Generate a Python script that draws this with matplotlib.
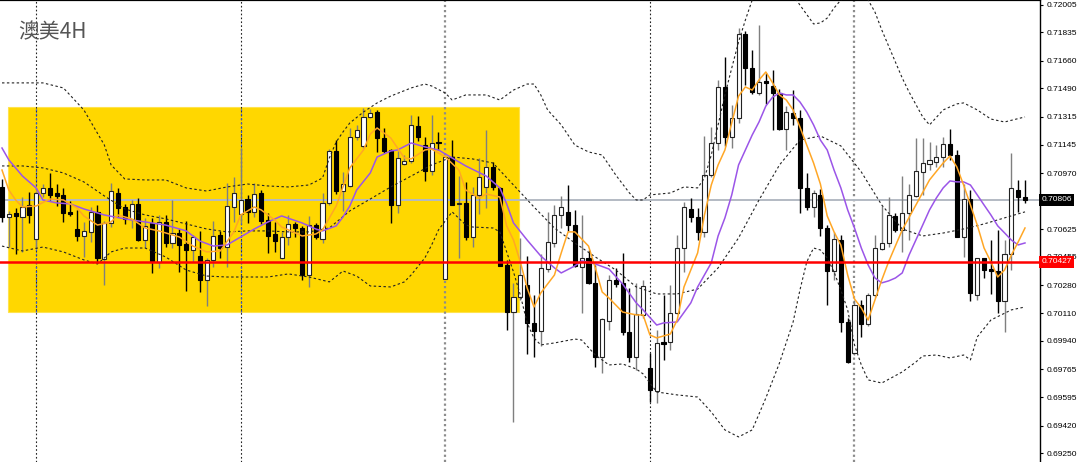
import matplotlib
matplotlib.use("Agg")
import matplotlib.pyplot as plt
from matplotlib.patches import Rectangle
import numpy as np

# ---------------- data (AUDUSD 4H) ----------------
opens = [0.70885,0.70701,0.70726,0.70701,0.70774,0.70565,0.70848,0.70879,0.70848,0.70836,
         0.70732,0.70627,0.70584,0.70609,0.70732,0.70443,0.70664,0.70848,0.70762,0.70689,
         0.70781,0.70559,0.70664,0.70425,0.70670,0.70541,0.70603,0.70535,0.70498,0.70461,
         0.70314,0.70437,0.70590,0.70516,0.70762,0.70719,0.70811,0.70732,0.70848,0.70682,
         0.70596,0.70449,0.70578,0.70658,0.70633,0.70345,0.70652,0.70566,0.70787,0.71106,
         0.70860,0.70891,0.71192,0.71137,0.71315,0.71345,0.71186,0.71112,0.70774,0.71026,
         0.71045,0.71260,0.71143,0.70983,0.71161,0.70320,0.71069,0.70781,0.70787,0.70578,
         0.70836,0.70885,0.71008,0.70879,0.70406,0.70117,0.70209,0.70283,0.70050,0.70001,
         0.70381,0.70541,0.70713,0.70732,0.70652,0.70394,0.70449,0.70295,0.69841,0.70062,
         0.70314,0.70295,0.69995,0.69841,0.70099,0.69774,0.69632,0.69933,0.69933,0.70111,
         0.70510,0.70750,0.70701,0.70609,0.70958,0.71155,0.71499,0.71192,0.71309,0.71824,
         0.71615,0.71462,0.71536,0.71505,0.71462,0.71241,0.71339,0.71309,0.70879,0.70762,
         0.70836,0.70633,0.70369,0.70559,0.70056,0.69866,0.70160,0.70044,0.70222,0.70504,
         0.70541,0.70707,0.70621,0.70726,0.70830,0.70977,0.71026,0.71038,0.71069,0.71149,
         0.71081,0.70578,0.70811,0.70222,0.70449,0.70381,0.70369,0.70185,0.70473,0.70866,
         0.70823]
highs = [0.70934,0.70738,0.70756,0.70823,0.70854,0.70860,0.70903,0.70971,0.70903,0.70879,
         0.70799,0.70744,0.70670,0.70762,0.70774,0.70676,0.70909,0.70879,0.70781,0.70805,
         0.70817,0.70695,0.70695,0.70713,0.70713,0.70805,0.70627,0.70676,0.70590,0.70615,
         0.70449,0.70676,0.70615,0.70909,0.70946,0.71124,0.70836,0.70909,0.70866,0.70726,
         0.70670,0.70609,0.70713,0.70670,0.70646,0.70707,0.70664,0.70848,0.71118,0.71173,
         0.70977,0.71247,0.71266,0.71370,0.71364,0.71358,0.71247,0.71118,0.71106,0.71081,
         0.71327,0.71321,0.71192,0.71327,0.71223,0.71075,0.71173,0.70952,0.70916,0.70885,
         0.71063,0.71235,0.71038,0.70885,0.70437,0.70295,0.70572,0.70461,0.70222,0.70473,
         0.70732,0.70774,0.70829,0.70897,0.70744,0.70713,0.70498,0.70406,0.70080,0.70345,
         0.70388,0.70480,0.70265,0.70295,0.70314,0.69866,0.70007,0.70222,0.70283,0.70590,
         0.70793,0.70817,0.70756,0.71198,0.71253,0.71542,0.71683,0.71388,0.71861,0.71843,
         0.71726,0.71880,0.71585,0.71603,0.71487,0.71382,0.71480,0.71358,0.70971,0.70866,
         0.70873,0.70652,0.70609,0.70590,0.70080,0.70191,0.70191,0.70234,0.70590,0.70768,
         0.70823,0.70726,0.70952,0.70903,0.71186,0.71186,0.71161,0.71143,0.71192,0.71241,
         0.71112,0.70903,0.70866,0.70449,0.70449,0.70559,0.70621,0.70559,0.71094,0.70928,
         0.70928]
lows = [0.70670,0.70516,0.70473,0.70486,0.70664,0.70510,0.70823,0.70805,0.70768,0.70670,
        0.70707,0.70553,0.70455,0.70547,0.70425,0.70283,0.70639,0.70707,0.70658,0.70633,
        0.70553,0.70510,0.70357,0.70388,0.70516,0.70510,0.70363,0.70246,0.70425,0.70240,
        0.70154,0.70394,0.70449,0.70394,0.70670,0.70664,0.70664,0.70701,0.70658,0.70480,
        0.70486,0.70443,0.70529,0.70578,0.70314,0.70271,0.70566,0.70541,0.70774,0.70842,
        0.70738,0.70885,0.71173,0.71124,0.71309,0.71100,0.71094,0.70664,0.70726,0.71020,
        0.71032,0.71167,0.70922,0.70958,0.71112,0.70320,0.70774,0.70449,0.70559,0.70516,
        0.70719,0.70756,0.70866,0.70400,0.70007,0.69442,0.70191,0.69860,0.69841,0.69908,
        0.70363,0.70516,0.70633,0.70615,0.70394,0.70111,0.70289,0.69780,0.69743,0.70007,
        0.70271,0.69976,0.69810,0.69761,0.70080,0.69565,0.69559,0.69823,0.69884,0.70105,
        0.70363,0.70670,0.70559,0.70578,0.70946,0.71112,0.71137,0.71124,0.71278,0.71511,
        0.71456,0.71450,0.71394,0.71235,0.71235,0.71112,0.71266,0.70726,0.70744,0.70701,
        0.70584,0.70160,0.70314,0.69995,0.69804,0.69853,0.69964,0.70031,0.70209,0.70498,
        0.70516,0.70609,0.70486,0.70559,0.70823,0.70836,0.70989,0.71008,0.71008,0.71051,
        0.70578,0.70455,0.70185,0.70191,0.70326,0.70228,0.70111,0.69995,0.70375,0.70732,
        0.70787]
closes = [0.70701,0.70719,0.70707,0.70762,0.70713,0.70848,0.70879,0.70836,0.70829,0.70726,
          0.70719,0.70584,0.70615,0.70732,0.70449,0.70664,0.70860,0.70756,0.70689,0.70781,
          0.70559,0.70646,0.70431,0.70670,0.70541,0.70603,0.70529,0.70498,0.70578,0.70314,
          0.70437,0.70584,0.70510,0.70768,0.70848,0.70805,0.70732,0.70842,0.70676,0.70584,
          0.70553,0.70578,0.70658,0.70633,0.70345,0.70652,0.70578,0.70787,0.71106,0.70860,
          0.70903,0.71192,0.71235,0.71315,0.71339,0.71186,0.71106,0.70774,0.71063,0.71045,
          0.71266,0.71192,0.70983,0.71155,0.71155,0.71069,0.70774,0.70787,0.70578,0.70836,
          0.70946,0.71008,0.70885,0.70400,0.70117,0.70209,0.70345,0.70050,0.70001,0.70388,
          0.70547,0.70713,0.70762,0.70652,0.70400,0.70449,0.70295,0.69841,0.70074,0.70314,
          0.70289,0.69995,0.69841,0.70105,0.70277,0.69638,0.69927,0.69921,0.70111,0.70510,
          0.70762,0.70701,0.70609,0.70958,0.71155,0.71499,0.71192,0.71309,0.71824,0.71615,
          0.71468,0.71530,0.71523,0.71462,0.71241,0.71345,0.71309,0.70879,0.70762,0.70848,
          0.70633,0.70369,0.70565,0.70056,0.69810,0.70160,0.70044,0.70222,0.70510,0.70541,
          0.70713,0.70621,0.70726,0.70836,0.70983,0.71032,0.71051,0.71069,0.71149,0.71081,
          0.70578,0.70811,0.70234,0.70449,0.70375,0.70369,0.70185,0.70473,0.70879,0.70823,
          0.70806]

# Bollinger bands (read at candle indices)
bb_upper_idx = [0,3,6,9,12,15,16,17,18,21,24,27,30,33,36,39,42,45,47,48,49,50,51,53,55,57,60,62,63,65,
                66,68,71,73,75,77,78,79,80,82,84,86,88,89,90,92,93,94,95,98,100,102,103,104,105,106,107,
                108,109,110,112,115,116,117,119,120,121,122,123,125,127,128,129,131,132,133,135,136,138,
                140,141,143,145,147,150]
bb_upper = [0.71524,0.71524,0.71524,0.71493,0.71358,0.71143,0.71020,0.70977,0.70934,0.70928,0.70928,
            0.70879,0.70860,0.70885,0.70903,0.70891,0.70885,0.70897,0.70940,0.71063,0.71161,0.71223,
            0.71278,0.71345,0.71401,0.71443,0.71493,0.71517,0.71505,0.71462,0.71419,0.71450,0.71450,
            0.71419,0.71480,0.71517,0.71517,0.71450,0.71358,0.71266,0.71142,0.71100,0.71081,0.71020,
            0.70958,0.70848,0.70805,0.70805,0.70836,0.70848,0.70885,0.70879,0.70940,0.71081,0.71266,
            0.71450,0.71615,0.71775,0.71910,0.72033,0.72217,0.72187,0.72064,0.72002,0.71886,0.71892,
            0.71922,0.71984,0.72033,0.72156,0.72033,0.71959,0.71849,0.71652,0.71554,0.71468,0.71315,
            0.71266,0.71358,0.71395,0.71401,0.71358,0.71302,0.71284,0.71315]
bb_mid_idx = list(range(0, 151, 3))
bb_mid = [0.71014,0.71014,0.71002,0.70971,0.70916,0.70830,0.70750,0.70713,0.70689,0.70658,0.70627,
          0.70609,0.70615,0.70615,0.70609,0.70609,0.70633,0.70738,0.70811,0.70885,0.70952,0.71020,
          0.71069,0.71057,0.71032,0.70897,0.70762,0.70633,0.70541,0.70455,0.70375,0.70271,0.70228,
          0.70228,0.70258,0.70388,0.70572,0.70805,0.71020,0.71173,0.71198,0.71137,0.70977,0.70774,
          0.70627,0.70584,0.70602,0.70627,0.70658,0.70695,0.70732]
bb_lower_idx = [0,3,6,9,12,14,16,18,21,24,27,30,33,36,39,42,45,48,50,52,54,57,59,60,62,63,64,66,68,69,
                72,73,74,75,76,77,78,79,81,84,85,87,89,91,93,94,96,99,102,104,106,108,110,112,114,116,
                117,118,119,120,121,122,123,124,125,126,127,129,132,134,135,137,139,141,142,143,145,148,150]
bb_lower = [0.70522,0.70492,0.70516,0.70486,0.70437,0.70412,0.70486,0.70510,0.70510,0.70455,0.70375,
            0.70338,0.70332,0.70332,0.70332,0.70351,0.70332,0.70302,0.70369,0.70338,0.70277,0.70271,
            0.70302,0.70345,0.70449,0.70529,0.70621,0.70732,0.70652,0.70639,0.70633,0.70609,0.70486,
            0.70363,0.70222,0.70050,0.69957,0.69915,0.69927,0.69951,0.69945,0.69853,0.69792,0.69798,
            0.69767,0.69737,0.69626,0.69608,0.69595,0.69503,0.69393,0.69350,0.69393,0.69589,0.69804,
            0.70056,0.70252,0.70425,0.70510,0.70498,0.70449,0.70363,0.70252,0.70130,0.69915,0.69792,
            0.69700,0.69681,0.69749,0.69810,0.69847,0.69853,0.69835,0.69853,0.69823,0.69964,0.70068,
            0.70130,0.70148]

# fast moving average (orange)
ma_fast_idx = [0,1,2,3,5,7,9,11,12,14,16,17,19,21,23,26,28,30,32,34,35,37,38,40,41,43,44,46,47,49,
               50,51,53,54,55,57,58,59,60,62,63,65,67,68,70,71,73,74,75,76,77,78,79,81,82,83,84,86,87,88,
               89,91,93,94,95,96,98,99,100,102,103,104,105,106,107,108,109,110,111,112,113,114,115,116,
               117,118,119,120,121,122,123,124,125,126,127,128,129,130,132,134,136,138,139,140,141,142,
               143,144,145,146,147,148,149,150]
ma_fast = [0.70989,0.70866,0.70805,0.70762,0.70768,0.70811,0.70805,0.70756,0.70707,0.70651,0.70670,
           0.70713,0.70689,0.70633,0.70615,0.70578,0.70522,0.70486,0.70492,0.70609,0.70713,0.70762,
           0.70744,0.70682,0.70639,0.70603,0.70584,0.70596,0.70621,0.70768,0.70885,0.71002,0.71112,
           0.71210,0.71247,0.71186,0.71124,0.71063,0.71057,0.71112,0.71118,0.71069,0.70989,0.70866,
           0.70817,0.70842,0.70823,0.70646,0.70559,0.70425,0.70265,0.70148,0.70234,0.70344,0.70480,
           0.70609,0.70609,0.70522,0.70388,0.70240,0.70203,0.70117,0.70099,0.70099,0.69976,0.69958,
           0.69982,0.70068,0.70271,0.70480,0.70713,0.70897,0.71020,0.71112,0.71278,0.71443,0.71499,
           0.71480,0.71542,0.71591,0.71524,0.71450,0.71419,0.71358,0.71253,0.71142,0.71032,0.70903,
           0.70707,0.70609,0.70528,0.70344,0.70197,0.70142,0.70068,0.70191,0.70314,0.70425,0.70621,
           0.70774,0.70928,0.71032,0.71075,0.71008,0.70897,0.70774,0.70651,0.70510,0.70425,0.70332,
           0.70375,0.70467,0.70547,0.70633]

# slow moving average (purple)
ma_slow_idx = [0,1,3,5,6,8,10,12,15,18,21,24,27,29,31,33,35,37,39,41,44,46,47,49,50,51,52,54,55,57,
               58,60,62,64,66,68,71,73,74,75,77,79,81,82,84,85,87,89,91,93,94,96,97,99,101,102] + list(range(104, 151))
ma_slow = [0.71124,0.71051,0.70952,0.70879,0.70805,0.70787,0.70781,0.70750,0.70713,0.70689,0.70670,
           0.70651,0.70615,0.70553,0.70522,0.70529,0.70578,0.70627,0.70670,0.70707,0.70664,0.70627,
           0.70615,0.70646,0.70701,0.70768,0.70866,0.70971,0.71069,0.71106,0.71112,0.71155,0.71131,
           0.71112,0.71063,0.71014,0.70952,0.70879,0.70781,0.70664,0.70559,0.70461,0.70388,0.70357,
           0.70400,0.70431,0.70412,0.70381,0.70289,0.70173,0.70130,0.70037,0.70050,0.70056,0.70173,
           0.70271,0.70419,0.70584,0.70695,0.70836,0.71020,0.71112,0.71204,0.71284,0.71382,0.71437,
           0.71462,0.71450,0.71450,0.71407,0.71345,0.71266,0.71173,0.71112,0.70989,0.70879,0.70744,
           0.70633,0.70510,0.70406,0.70326,0.70296,0.70308,0.70326,0.70357,0.70467,0.70559,0.70651,
           0.70744,0.70817,0.70879,0.70922,0.70916,0.70916,0.70897,0.70836,0.70774,0.70713,0.70646,
           0.70603,0.70559,0.70529,0.70541]

price_ticks = [0.72005,0.71835,0.71660,0.71490,0.71315,0.71145,0.70970,0.70625,0.70455,
               0.70280,0.70110,0.69940,0.69765,0.69595,0.69420,0.69250]
current_price = 0.70806
support_level = 0.70427
week_starts = [5, 35, 65, 95, 125]
box_start, box_end = 0.93, 75.85
box_top, box_bottom = 0.71378, 0.70119
title = "澳美4H"

# ---------------- figure ----------------
fig = plt.figure(figsize=(10.8, 4.62), dpi=100)
ax = fig.add_axes([0, 0, 1040 / 1080, 1])
ax.set_xlim(-0.293, 152.2)
ax.set_ylim(0.69196, 0.72033)
ax.set_facecolor("white")

# highlighted zone
ax.add_patch(Rectangle((box_start, box_bottom), box_end - box_start, box_top - box_bottom,
                       facecolor="#FFD700", edgecolor="#FFE34D", lw=0.8, zorder=0.5))

# week separators
for w in week_starts:
    if w in (65, 125):
        ax.axvline(w, color="#8c8c8c", lw=1.6, ls=(0, (1, 1.3)), zorder=1)
    else:
        ax.axvline(w, color="#222222", lw=0.8, ls=(0, (1.5, 2)), zorder=1)
        if box_start <= w <= box_end:
            ax.vlines(w, box_bottom, box_top, color="#3355dd", lw=0.9,
                      linestyles=[(0, (1.5, 2))], zorder=1.1)

ax.axhline(current_price, color="#b3bac3", lw=1.4, zorder=1.5)

o = np.array(opens); h = np.array(highs); l = np.array(lows); c = np.array(closes)
x = np.arange(len(o))
bull = c >= o
ax.vlines(x[bull], l[bull], h[bull], color="#7f7f7f", lw=1.0, zorder=3)
ax.vlines(x[~bull], l[~bull], h[~bull], color="black", lw=1.0, zorder=3)
bottoms = np.minimum(o, c)
heights = np.maximum(np.abs(c - o), 0.00003)
ax.bar(x[bull], heights[bull], bottom=bottoms[bull], width=0.6, color="white",
       edgecolor="#222222", lw=0.8, zorder=4)
ax.bar(x[~bull], heights[~bull], bottom=bottoms[~bull], width=0.6, color="black",
       edgecolor="black", lw=0.8, zorder=4)

def line(ix, vals, **kw):
    n = min(len(ix), len(vals))
    ax.plot(ix[:n], vals[:n], **kw)

dash = (0, (2.2, 2.2))
line(bb_upper_idx, bb_upper, color="#222222", lw=0.8, ls=dash, zorder=5)
line(bb_mid_idx, bb_mid, color="#222222", lw=0.8, ls=dash, zorder=5)
line(bb_lower_idx, bb_lower, color="#222222", lw=0.8, ls=dash, zorder=5)
line(ma_slow_idx, ma_slow, color="#9b55e8", lw=1.1, zorder=6)
line(ma_fast_idx, ma_fast, color="#FFA726", lw=1.1, zorder=6)

ax.axhline(support_level, color="#ff0000", lw=1.8, zorder=7)

# axes styling
for s in ("left", "bottom"):
    ax.spines[s].set_visible(False)
ax.spines["top"].set_linewidth(1.6)
ax.spines["right"].set_linewidth(1.0)
ax.set_xticks([])
ax.yaxis.tick_right()
ax.set_yticks(price_ticks)
ax.set_yticklabels([f"{v:.5f}" for v in price_ticks], family="Liberation Sans")
ax.tick_params(axis="y", direction="out", length=2.5, width=0.8, pad=2.2,
               labelsize=6.0, colors="black")

ytr = ax.get_yaxis_transform()
for val, bg in ((current_price, "black"), (support_level, "#ff0000")):
    ax.text(1.0012, val, f"{val:.5f}", transform=ytr, ha="left", va="center",
            fontsize=6.0, family="Liberation Sans", color="white", clip_on=False, zorder=20,
            bbox=dict(boxstyle="square,pad=0.3", fc=bg, ec="none"))

ax.text(18 / 1040, 1 - 32 / 462, title, transform=ax.transAxes, fontsize=15,
        color="#555555", family=["Noto Sans CJK SC", "DejaVu Sans"], ha="left", va="center")

fig.savefig("out.png", dpi=100)
